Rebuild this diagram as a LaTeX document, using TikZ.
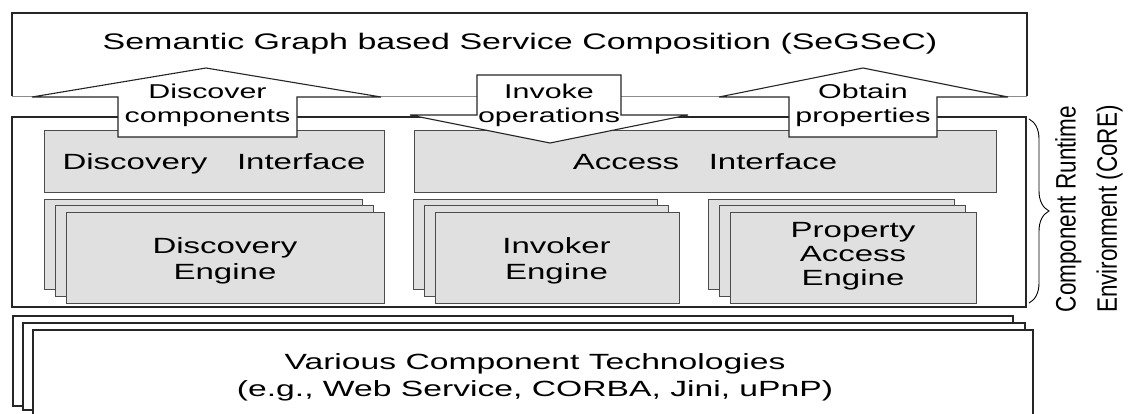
\documentclass[tikz,border=0pt]{standalone}
\usepackage{fontspec}
\setmainfont{Liberation Sans}
\usetikzlibrary{decorations.pathreplacing}
\newcommand{\sx}[2][1.5]{\scalebox{#1}[1]{#2}}
\newcommand{\lines}[1]{\begin{tabular}[b]{@{}c@{}}#1\end{tabular}}
\begin{document}
\begin{tikzpicture}[x=1pt,y=-1pt,
  box/.style={draw=black!85,line width=1.1pt},
  shadebox/.style={draw=black!70,fill=black!12,line width=1pt},
  arr/.style={draw=black!85,fill=white,line width=1.1pt,line join=miter},
  lbl/.style={inner sep=0pt,anchor=base},
  bigf/.style={font=\fontsize{22}{26}\selectfont},
  arrf/.style={font=\fontsize{20}{24}\selectfont}]
\path[use as bounding box] (0,0) rectangle (1132,414);
\fill[white] (0,0) rectangle (1132,414);
% top box
\draw[box] (12,96) -- (12,13) -- (1027,13) -- (1027,96);
\draw[black!45,line width=0.8pt] (12,96) -- (1027,96);
% CoRE box
\draw[box] (12,117) rectangle (1026,307);
% interfaces
\draw[shadebox] (44,131) rectangle (384,193);
\draw[shadebox] (414,131) rectangle (996,193);
% engine stacks
\foreach \a/\b in {44/362,413/657,708/954}{
  \draw[shadebox] (\a,200) rectangle (\b,289);
  \draw[shadebox] (\a+11,206) rectangle (\b+11,296);
  \draw[shadebox] (\a+22,213) rectangle (\b+22,303);
}
% arrows
\draw[arr] (118,137) -- (118,97) -- (32,97) -- (206,68) -- (381,97) -- (297,97) -- (297,137) -- cycle;
\draw[arr] (789,137) -- (789,97) -- (719,97) -- (863,68) -- (1008,97) -- (937,97) -- (937,137) -- cycle;
\draw[arr] (477,75) -- (621,75) -- (621,115) -- (688,115) -- (550,143) -- (410,115) -- (477,115) -- cycle;
% bottom stack
\draw[box,fill=white] (13,316) rectangle (1013,406);
\draw[box,fill=white] (23,323) rectangle (1025,410);
\fill[white] (33,330) rectangle (1033,420);
\draw[box] (33,420) -- (33,330) -- (1033,330) -- (1033,420);
% brace
\draw[decorate,decoration={brace,amplitude=20pt},line width=0.9pt] (1029,119) -- (1029,303);
% texts
\node[lbl] (title) at (520,50) {\fontsize{22.5}{26}\selectfont\sx[1.51]{Semantic Graph based Service Composition (SeGSeC)}};
\node[lbl,arrf] (disc) at (207.5,123) {\sx[1.52]{\lines{Discover\\components}}};
\node[lbl,arrf] (inv) at (549,123) {\sx[1.52]{\lines{Invoke\\operations}}};
\node[lbl,arrf] (obt) at (863,123) {\sx[1.52]{\lines{Obtain\\properties}}};
\node[lbl,bigf] (di) at (214,170) {\sx{Discovery\hspace{0.9em}Interface}};
\node[lbl,bigf] (ai) at (705,170) {\sx{Access\hspace{0.9em}Interface}};
\node[lbl,bigf] (de) at (225,279) {\sx{\lines{Discovery\\Engine}}};
\node[lbl,bigf] (ie) at (556.5,279) {\sx{\lines{Invoker\\Engine}}};
\node[lbl,font=\fontsize{22}{24}\selectfont] (pe) at (853,285) {\sx{\lines{Property\\Access\\Engine}}};
\node[lbl,font=\fontsize{22}{27}\selectfont] (vc) at (535,396) {\sx[1.53]{\lines{Various Component Technologies\\(e.g., Web Service, CORBA, Jini, uPnP)}}};
\node[rotate=90,inner sep=0pt] (core) at (1088,209) {\scalebox{1}[1.25]{\fontsize{22.5}{33}\selectfont\lines{Component Runtime\\Environment (CoRE)}}};
\end{tikzpicture}
\end{document}
